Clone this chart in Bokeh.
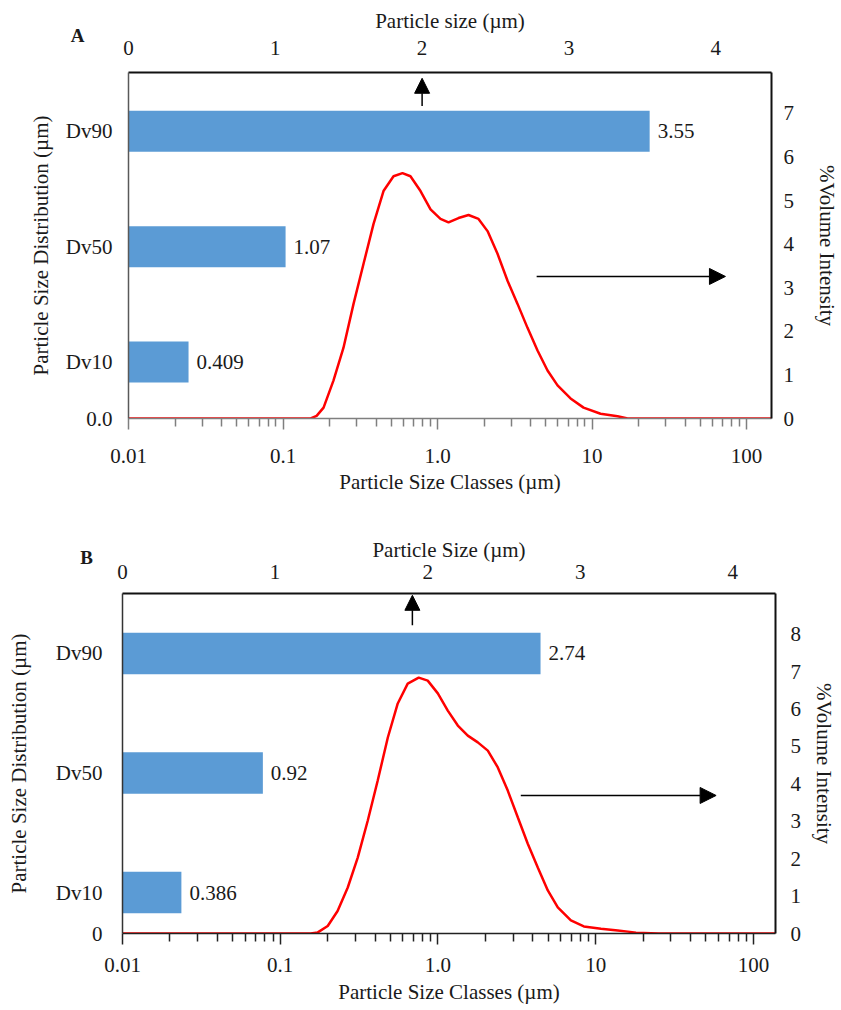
from bokeh.plotting import figure
from bokeh.models import (Range1d, LinearAxis, LinearScale, FixedTicker,
                          CustomJSTickFormatter, Arrow, NormalHead, Label,
                          ColumnDataSource)
from bokeh.layouts import column
from bokeh.core.properties import value
from bokeh.embed import file_html
from bokeh.resources import INLINE

# ---------------- data ----------------
categories = ["Dv10", "Dv50", "Dv90"]
dv_A = [0.409, 1.07, 3.55]
dv_B = [0.386, 0.92, 2.74]

size_A = [0.01, 0.151, 0.165, 0.183, 0.212, 0.246, 0.286, 0.332, 0.385, 0.447,
          0.519, 0.593, 0.668, 0.776, 0.901, 1.045, 1.178, 1.367, 1.587, 1.842,
          2.107, 2.445, 2.838, 3.294, 3.823, 4.437, 5.150, 5.978, 7.26, 8.81,
          11.35, 14.62, 17.0, 145]
vol_A = [0, 0, 0.06, 0.25, 0.87, 1.62, 2.63, 3.55, 4.46, 5.22,
         5.56, 5.63, 5.56, 5.22, 4.80, 4.58, 4.50, 4.60, 4.67, 4.58,
         4.30, 3.78, 3.16, 2.63, 2.08, 1.56, 1.10, 0.76, 0.46, 0.25,
         0.11, 0.05, 0.0, 0]

size_B = [0.01, 0.156, 0.173, 0.200, 0.231, 0.268, 0.310, 0.359, 0.415, 0.481,
          0.556, 0.643, 0.755, 0.861, 0.998, 1.154, 1.336, 1.545, 1.789, 2.07,
          2.395, 2.77, 3.21, 3.71, 4.30, 4.97, 5.75, 6.96, 8.41, 10.8,
          13.8, 16.0, 18.0, 25.0, 138]
vol_B = [0, 0, 0.03, 0.2, 0.6, 1.23, 2.03, 3.02, 4.09, 5.24,
         6.15, 6.68, 6.84, 6.76, 6.42, 5.96, 5.56, 5.29, 5.11, 4.89,
         4.44, 3.82, 3.10, 2.40, 1.76, 1.15, 0.70, 0.35, 0.19, 0.13,
         0.08, 0.05, 0.02, 0, 0]

class_ticks = [0.01, 0.1, 1, 10, 100]
class_labels = ["0.01", "0.1", "1.0", "10", "100"]
size_ticks = [0, 1, 2, 3, 4]
vol_ticks_A = [0, 1, 2, 3, 4, 5, 6, 7]
vol_ticks_B = [0, 1, 2, 3, 4, 5, 6, 7, 8]

# ---------------- style ----------------
FONT = "Liberation Serif"
TXT = "#1a1a1a"
BAR = "#5B9BD5"
RED = "#FF0000"
FS = "21px"
minor_ticks = [m * 10.0 ** e for e in range(-2, 3) for m in range(2, 10)]

NEAREST_LOG = """
let best = 0, bd = Infinity;
for (let i = 0; i < vals.length; i++) {
  const d = Math.abs(Math.log10(vals[i]) - Math.log10(tick));
  if (d < bd) { bd = d; best = i; }
}
return labs[best];
"""
NEAREST_LIN = """
let best = 0, bd = Infinity;
for (let i = 0; i < vals.length; i++) {
  const d = Math.abs(vals[i] - tick);
  if (d < bd) { bd = d; best = i; }
}
return labs[best];
"""


def style_axis(ax, color, lw, label_standoff, title_standoff,
               tick_out=0, minor_out=0):
    ax.axis_line_color = color
    ax.axis_line_width = lw
    ax.major_tick_in = 0
    ax.minor_tick_in = 0
    ax.major_tick_out = tick_out
    ax.minor_tick_out = minor_out
    ax.major_tick_line_color = color if tick_out else None
    ax.minor_tick_line_color = color if minor_out else None
    ax.major_tick_line_width = 1.5
    ax.minor_tick_line_width = 1.5
    ax.major_label_standoff = label_standoff
    ax.axis_label_standoff = title_standoff
    ax.major_label_text_font = FONT
    ax.major_label_text_font_size = FS
    ax.major_label_text_color = TXT
    ax.axis_label_text_font = FONT
    ax.axis_label_text_font_size = FS
    ax.axis_label_text_font_style = "normal"
    ax.axis_label_text_color = TXT


def make_panel(letter, top_title, dv, sizes, vols, vol_ticks, zero_label, c):
    p = figure(x_axis_type="log",
               x_range=Range1d(0.01, c["x_max"]),
               y_range=Range1d(0, c["y_max"]),
               frame_width=c["fw"], frame_height=c["fh"],
               min_border_left=c["bl"], min_border_right=c["br"],
               min_border_top=c["bt"], min_border_bottom=c["bb"],
               frame_align=False,
               output_backend="svg", toolbar_location=None)
    p.outline_line_color = None
    p.xgrid.visible = False
    p.ygrid.visible = False
    p.background_fill_color = "white"
    p.border_fill_color = "white"

    p.extra_x_ranges = {"top": Range1d(0, c["top_max"])}
    p.extra_x_scales = {"top": LinearScale()}
    p.extra_y_ranges = {"right": Range1d(0, c["vol_max"])}

    pos = [c["cat0"] + i for i in range(len(categories))]

    # bottom log axis
    xb = p.below[0]
    xb.ticker = FixedTicker(ticks=class_ticks, minor_ticks=minor_ticks)
    xb.formatter = CustomJSTickFormatter(
        args=dict(vals=class_ticks, labs=class_labels), code=NEAREST_LOG)
    xb.axis_label = "Particle Size Classes (\u00b5m)"
    style_axis(xb, c["bot_color"], 1.5, c["b_ls"], c["b_ts"],
               tick_out=11, minor_out=8)

    # left axis
    yl = p.left[0]
    yl.ticker = FixedTicker(ticks=[0] + pos)
    yl.formatter = CustomJSTickFormatter(
        args=dict(vals=[0] + pos, labs=[zero_label] + categories),
        code=NEAREST_LIN)
    yl.axis_label = "Particle Size Distribution (\u00b5m)"
    style_axis(yl, c["left_color"], 1.5, c["l_ls"], c["l_ts"])

    # top axis
    xt = LinearAxis(x_range_name="top", ticker=FixedTicker(ticks=size_ticks),
                    axis_label=top_title)
    style_axis(xt, "#111111", 2, c["t_ls"], c["t_ts"])
    p.add_layout(xt, "above")

    # right axis
    yr = LinearAxis(y_range_name="right", ticker=FixedTicker(ticks=vol_ticks),
                    axis_label="%Volume Intensity")
    style_axis(yr, "#111111", 2, c["r_ls"], c["r_ts"])
    p.add_layout(yr, "right")

    # bars
    src = ColumnDataSource(dict(y=pos, right=dv,
                                label=[f"{v:g}" for v in dv]))
    p.hbar(y="y", left=0, right="right", height=c["bar_h"], source=src,
           x_range_name="top", fill_color=BAR, line_color=None)
    p.text(x="right", y="y", text="label", source=src, x_range_name="top",
           x_offset=8, text_baseline="middle", text_align="left",
           text_font=value(FONT), text_font_size=FS, text_color=TXT)

    # volume curve
    p.line(sizes, vols, y_range_name="right", line_color=RED, line_width=2.5)

    # arrows
    p.add_layout(Arrow(end=NormalHead(size=15, fill_color="black",
                                      line_color="black"),
                       x_start=c["up_x"], y_start=c["up_y0"],
                       x_end=c["up_x"], y_end=c["up_y1"],
                       x_range_name="top", line_width=1.5, line_color="black"))
    p.add_layout(Arrow(end=NormalHead(size=16, fill_color="black",
                                      line_color="black"),
                       x_start=c["rt_x0"], y_start=c["rt_y"],
                       x_end=c["rt_x1"], y_end=c["rt_y"],
                       y_range_name="right", line_width=1.5,
                       line_color="black"))

    # panel letter (placed in a side panel so it is not clipped to the frame)
    p.add_layout(Label(x=c["let_x"], y=c["let_y"], x_range_name="top",
                       text=letter, text_font=FONT, text_font_style="bold",
                       text_font_size="19px", text_color=TXT,
                       text_align="center", text_baseline="middle"),
                 c["let_side"])
    return p


cfg_A = dict(x_max=145, y_max=3.0, top_max=4.38, vol_max=7.94,
             fw=643, fh=346, bl=128, br=68, bt=72, bb=85,
             cat0=0.49, bar_h=0.355,
             bot_color="#7f7f7f", left_color="#595959",
             b_ls=19, b_ts=4, l_ls=16, l_ts=10, t_ls=18, t_ts=5,
             r_ls=12, r_ts=18,
             up_x=2.0, up_y0=2.71, up_y1=2.95,
             rt_x0=4.38, rt_x1=73, rt_y=3.26,
             let_x=-0.347, let_y=3.32, let_side="left")

cfg_B = dict(x_max=138, y_max=2.845, top_max=4.28, vol_max=9.09,
             fw=653, fh=340, bl=122, br=64, bt=90, bb=75,
             cat0=0.343, bar_h=0.347,
             bot_color="#222222", left_color="#333333",
             b_ls=13, b_ts=5, l_ls=20, l_ts=22, t_ls=15, t_ts=0,
             r_ls=15, r_ts=8,
             up_x=1.90, up_y0=2.58, up_y1=2.83,
             rt_x0=3.35, rt_x1=58, rt_y=3.69,
             let_x=-0.236, let_y=3.146, let_side="above")

pA = make_panel("A", "Particle size (\u00b5m)", dv_A, size_A, vol_A,
                vol_ticks_A, "0.0", cfg_A)
pB = make_panel("B", "Particle Size (\u00b5m)", dv_B, size_B, vol_B,
                vol_ticks_B, "0", cfg_B)

layout = column(pA, pB, spacing=0)
open("out.html", "w").write(file_html(layout, INLINE))
